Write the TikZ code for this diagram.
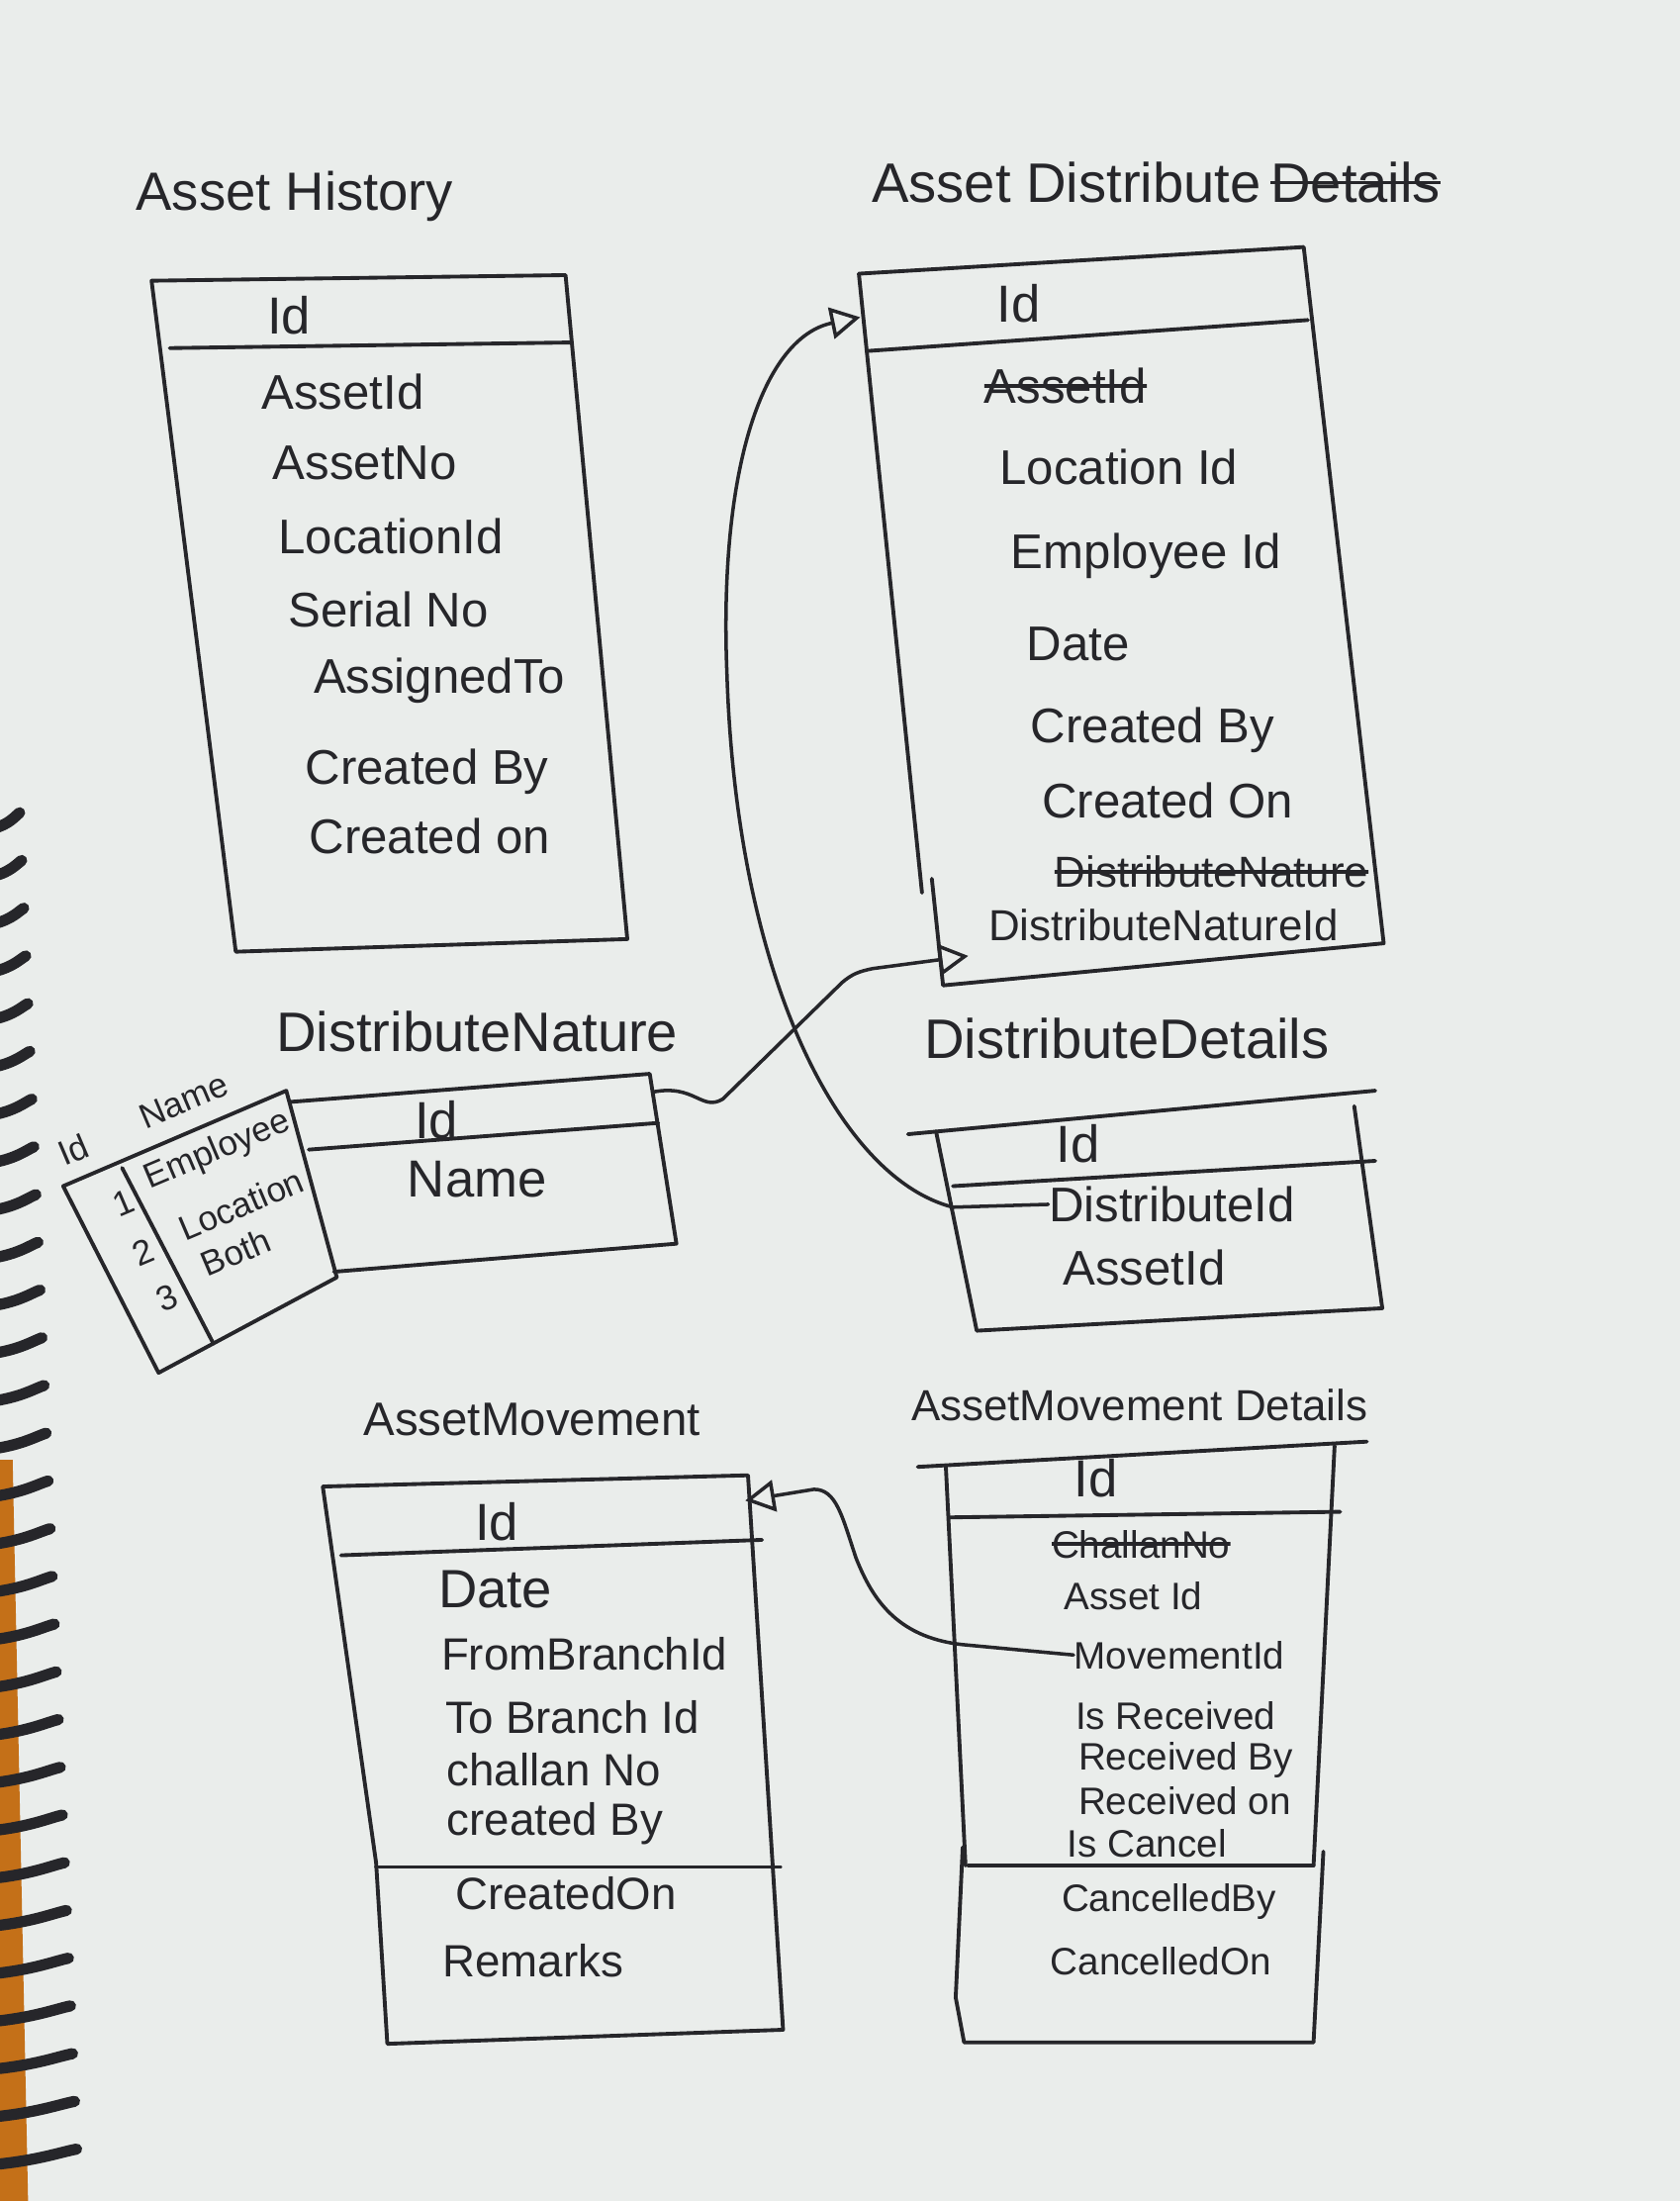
\documentclass[tikz,border=0pt]{standalone}
\usepackage{fontspec}
\setmainfont{Liberation Sans}
\usetikzlibrary{arrows.meta, positioning}

\definecolor{paper}{RGB}{234,237,235}
\definecolor{ink}{RGB}{38,38,42}
\definecolor{spine}{RGB}{196,112,24}

\begin{document}
\begin{tikzpicture}[
    x=0.014184cm, y=-0.014184cm,
    line join=round, line cap=round,
    tblline/.style={draw=ink, line width=1.1pt},
    tbltitle/.style={text=ink, inner sep=0pt, font=\fontsize{16}{19}\selectfont},
    pkey/.style={text=ink, inner sep=0pt, font=\fontsize{15}{18}\selectfont},
    fld/.style={text=ink, inner sep=0pt, anchor=west, font=\fontsize{14}{17}\selectfont},
    smallfld/.style={fld, font=\fontsize{11}{13}\selectfont},
    midfld/.style={fld, font=\fontsize{13}{15}\selectfont},
    struck/.style={path picture={\draw[ink, line width=1pt]
        (path picture bounding box.west) -- (path picture bounding box.east);}},
    lookup/.style={text=ink, inner sep=0pt, rotate=23, font=\fontsize{10}{12}\selectfont},
    fk/.style={draw=ink, line width=1pt,
        -{Triangle[open, length=0.3cm, width=0.32cm, line width=1pt]}}
]
\useasboundingbox (0,0) rectangle (1197,1568);

% paper and spiral binding
\fill[paper] (0,0) rectangle (1197,1568);
\begin{scope}
\clip (0,0) rectangle (1197,1568);
\fill[spine] (0,1040) -- (9,1040) -- (20,1568) -- (0,1568) -- cycle;
\foreach \i in {0,...,28} {
    \pgfmathsetmacro{\yy}{583+34*\i}
    \pgfmathsetmacro{\ww}{14+1.45*\i}
    \draw[ink, line width=3.2pt] (-4,\yy+7) .. controls (\ww*0.5,\yy+4) and (\ww*0.8,\yy-2) .. (\ww,\yy-4);
}
\end{scope}

% Asset History
\node[tbltitle, font=\fontsize{15.5}{18}\selectfont] (ahTitle) at (210,140) {Asset History};
\coordinate (ahA) at (108,200);
\coordinate (ahB) at (403,196);
\coordinate (ahC) at (447,669);
\coordinate (ahD) at (168,678);
\draw[tblline] (ahA) -- (ahB) -- (ahC) -- (ahD) -- cycle;
\draw[tblline] (121,248) -- (406,244);
\node[pkey] (ahId) at (206,225) {Id};
\node[fld] (ahAssetId) at (186,279) {AssetId};
\node[fld] (ahAssetNo) at (194,330) {AssetNo};
\node[fld] (ahLoc) at (198,382) {LocationId};
\node[fld] (ahSerial) at (205,434) {Serial No};
\node[fld] (ahAssigned) at (223,485) {AssignedTo};
\node[fld] (ahCrBy) at (217,550) {Created By};
\node[fld] (ahCrOn) at (220,596) {Created on};

% Asset Distribute
\node[tbltitle] (adTitle) at (760,130) {Asset Distribute};
\node[tbltitle, struck, right=0.08cm of adTitle] (adOld) {Details};
\coordinate (adA) at (612,195);
\coordinate (adB) at (929,176);
\coordinate (adC) at (986,672);
\coordinate (adD) at (672,702);
\draw[tblline] (adA) -- (adB) -- (adC) -- (adD) -- (664,626);
\draw[tblline] (adA) -- (657,636);
\draw[tblline] (619,250) -- (932,228);
\node[pkey] (adId) at (726,216) {Id};
\node[fld, struck] (adAssetId) at (701,275) {AssetId};
\node[fld] (adLoc) at (712,333) {Location Id};
\node[fld] (adEmp) at (720,396) {Employee Id};
\node[fld] (adDate) at (731,459) {Date};
\node[fld] (adCrBy) at (734,520) {Created By};
\node[fld] (adCrOn) at (742,570) {Created On};
\node[fld, struck, font=\fontsize{12.5}{15}\selectfont] (adNatOld) at (751,621) {DistributeNature};
\node[fld, font=\fontsize{12.5}{15}\selectfont] (adNatId) at (704,659) {DistributeNatureId};
\coordinate (adIdIn) at (613,226);
\coordinate (adNatIn) at (690,681);

% Distribute Nature
\node[tbltitle] (dnTitle) at (340,735) {DistributeNature};
\coordinate (dnA) at (207,785);
\coordinate (dnB) at (463,765);
\coordinate (dnC) at (482,886);
\coordinate (dnD) at (238,906);
\draw[tblline] (dnA) -- (dnB) -- (dnC) -- (dnD);
\draw[tblline] (220,819) -- (469,800);
\node[pkey] (dnId) at (311,798) {Id};
\node[pkey] (dnName) at (340,840) {Name};
\coordinate (dnOut) at (465,778);

% lookup values of Distribute Nature
\coordinate (lkA) at (45,845);
\coordinate (lkB) at (204,777);
\coordinate (lkC) at (240,910);
\coordinate (lkD) at (113,978);
\draw[tblline] (lkA) -- (lkB) -- (lkC) -- (lkD) -- cycle;
\draw[tblline] (87,832) -- (152,957);
\node[lookup] (lkHeadId) at (52,819) {Id};
\node[lookup] (lkHeadName) at (131,784) {Name};
\node[lookup] (lkOne) at (88,857) {1};
\node[lookup] (lkTwo) at (102,892) {2};
\node[lookup] (lkThree) at (119,925) {3};
\node[lookup] (lkEmp) at (155,820) {Employee};
\node[lookup] (lkLoc) at (172,858) {Location};
\node[lookup] (lkBoth) at (168,892) {Both};

% Distribute Details
\node[tbltitle] (ddTitle) at (803,740) {DistributeDetails};
\draw[tblline] (647,808) -- (980,777);
\draw[tblline] (679,845) -- (980,827);
\coordinate (ddA) at (667,806);
\coordinate (ddB) at (965,788);
\coordinate (ddC) at (985,932);
\coordinate (ddD) at (696,948);
\draw[tblline] (ddA) -- (ddD) -- (ddC) -- (ddB);
\node[pkey] (ddId) at (768,815) {Id};
\node[fld] (ddDistId) at (747,858) {DistributeId};
\node[fld] (ddAssetId) at (757,903) {AssetId};

% Asset Movement
\node[tbltitle, font=\fontsize{13.5}{16}\selectfont] (amTitle) at (379,1011) {AssetMovement};
\coordinate (amA) at (230,1059);
\coordinate (amB) at (533,1051);
\coordinate (amC) at (558,1446);
\coordinate (amD) at (276,1456);
\draw[tblline] (amA) -- (amB) -- (amC) -- (amD) -- (268,1327) -- (amA);
\draw[tblline] (243,1108) -- (543,1097);
\draw[tblline] (268,1330) -- (556,1330);
\node[pkey] (amId) at (354,1084) {Id};
\node[fld, font=\fontsize{15.5}{18}\selectfont] (amDate) at (312,1132) {Date};
\node[midfld] (amFrom) at (314,1178) {FromBranchId};
\node[midfld] (amTo) at (317,1223) {To Branch Id};
\node[midfld] (amChallan) at (318,1261) {challan No};
\node[midfld] (amCrBy) at (318,1299) {created By};
\node[midfld] (amCrOn) at (324,1349) {CreatedOn};
\node[midfld] (amRemarks) at (315,1397) {Remarks};
\coordinate (amIdIn) at (531,1069);

% Asset Movement Details
\node[tbltitle, font=\fontsize{12.5}{15}\selectfont] (amdTitle) at (812,1001) {AssetMovement Details};
\draw[tblline] (654,1045) -- (974,1027);
\draw[tblline] (676,1081) -- (955,1077);
\draw[tblline] (674,1045) -- (688,1329);
\draw[tblline] (951,1030) -- (936,1329);
\draw[tblline] (690,1329) -- (936,1329);
\draw[tblline] (686,1316) -- (681,1423) -- (687,1455) -- (936,1455) -- (943,1319);
\node[pkey] (amdId) at (781,1053) {Id};
\node[smallfld, struck] (amdChallan) at (749,1100) {ChallanNo};
\node[smallfld] (amdAssetId) at (758,1137) {Asset Id};
\node[smallfld] (amdMoveId) at (765,1179) {MovementId};
\node[smallfld] (amdIsRec) at (766,1222) {Is Received};
\node[smallfld] (amdRecBy) at (768,1254) {Received By};
\node[smallfld] (amdRecOn) at (768,1283) {Received on};
\node[smallfld] (amdIsCancel) at (760,1313) {Is Cancel};
\node[smallfld] (amdCanBy) at (756,1355) {CancelledBy};
\node[smallfld] (amdCanOn) at (748,1397) {CancelledOn};

% relations
\draw[fk] (ddDistId.west) -- (679,860)
    .. controls (600,840) and (525,700) .. (518,480)
    .. controls (512,330) and (545,240) .. (adIdIn);
\draw[fk] (dnOut) .. controls (495,772) and (500,792) .. (515,783)
    -- (600,700) .. controls (607,694) and (612,692) .. (622,690) -- (adNatIn);
\draw[fk] (amdMoveId.west) -- (690,1172)
    .. controls (640,1168) and (622,1140) .. (610,1110)
    .. controls (600,1080) and (596,1061) .. (580,1061) -- (amIdIn);

\end{tikzpicture}
\end{document}
